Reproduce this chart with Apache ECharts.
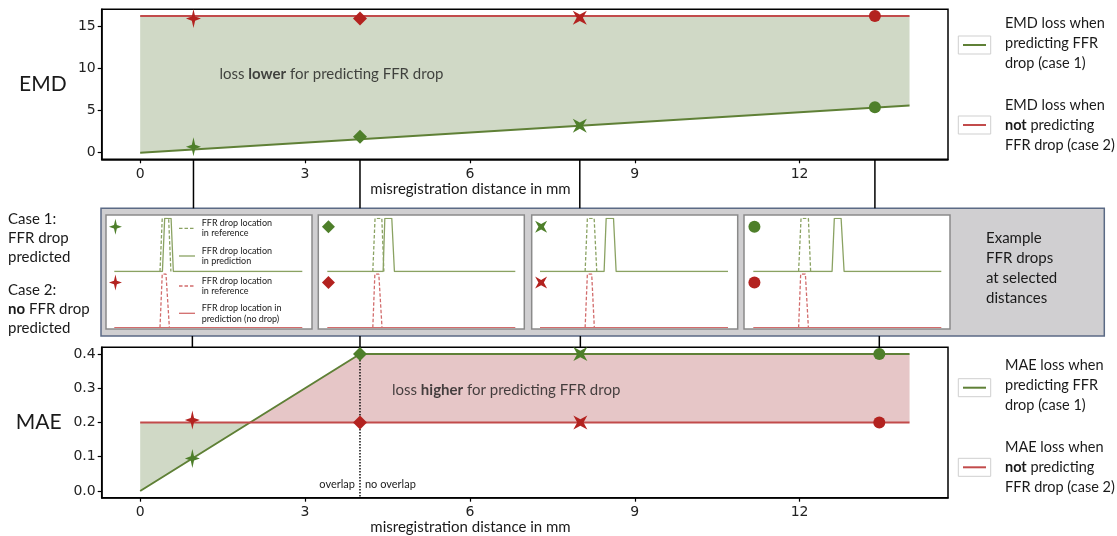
<!DOCTYPE html>
<html>
<head>
<meta charset="utf-8">
<script src="https://cdn.jsdelivr.net/npm/echarts@6/dist/echarts.min.js"></script>
<style>
html, body { margin: 0; padding: 0; background: #fff; }
#chart { width: 1117px; height: 536px; }
</style>
</head>
<body>
<div id="chart"></div>
<script>
// Misregistration distances (mm) of the four highlighted examples
const emdMarkerX = [0.97, 4, 8, 13.37];
const maeMarkerX = [0.95, 4, 8.01, 13.45];
const markerShapes = ['star4', 'diamond', 'xstar', 'circle'];

// EMD loss: case 1 (drop predicted) and case 2 (no drop predicted)
const emdLineX = [0, 14];
const emdPredLine = [0, 5.6];
const emdNoPredLine = [16.2, 16.2];
const emdPredMarkers = [0.7, 1.9, 3.2, 5.4];
const emdNoPredMarkers = [15.9, 15.9, 16.0, 16.2];

// MAE loss: case 1 and case 2
const maePredLineX = [0, 4, 14];
const maePredLine = [0, 0.4, 0.4];
const maeNoPredLineX = [0, 14];
const maeNoPredLine = [0.2, 0.2];
const maePredMarkers = [0.095, 0.4, 0.4, 0.4];
const maeNoPredMarkers = [0.207, 0.2, 0.2, 0.2];
const overlapLimit = 4;

// Tick positions
const xTicks = [0, 3, 6, 9, 12];
const emdTicks = [0, 5, 10, 15];
const maeTicks = [0, 0.1, 0.2, 0.3, 0.4];

// Example FFR-drop pulses along the vessel (0-100): [foot, top start, top end, foot]
const refPulse = [[24.3, 25.5, 28.9, 30.1], [24.2, 25.4, 29.0, 30.1], [24.0, 25.2, 28.8, 30.2], [24.1, 25.4, 29.3, 30.5]];
const predPulse = [[25.6, 26.8, 30.2, 31.4], [29.7, 30.6, 34.3, 35.7], [34.1, 35.2, 39.1, 40.5], [41.9, 43.1, 46.7, 48.3]];
const refPulseCase2 = [[24.3, 25.5, 27.5, 29.3], [24.2, 25.3, 27.4, 29.1], [24.0, 25.2, 27.5, 28.9], [24.1, 25.2, 27.7, 29.3]];

// Colours
const GREEN = '#5f8036', RED = '#c24b4b';
const GREEN_MK = '#4e7f2a', RED_MK = '#b3221f';
const GREEN_FILL = 'rgba(190,202,176,0.72)', RED_FILL = 'rgba(214,160,162,0.6)';
const MINI_GREEN = '#8aa262', MINI_RED = '#d26c6c';
const TEXT = '#1a1a1a';
const FONT = 'Lato';

const SYMBOLS = {
  star4: 'path://M0,-10 L2.2,-2.2 L10,0 L2.2,2.2 L0,10 L-2.2,2.2 L-10,0 L-2.2,-2.2 Z',
  diamond: 'diamond',
  xstar: 'path://M-10,-10 L0,-4.5 L10,-10 L4.5,0 L10,10 L0,4.5 L-10,10 L-4.5,0 Z',
  circle: 'circle'
};
const SIZES = { star4: [15, 19], diamond: [14, 14], xstar: [14, 14], circle: [12, 12] };
const MINI_SIZES = { star4: [13, 16], diamond: [13, 13], xstar: [12, 12], circle: [12, 12] };

// Layout
const PLOT_LEFT = 101.7, PLOT_W = 846.3;
const X_MIN = -0.7, X_MAX = 14.7;
const PANEL_LEFT = [106, 318.3, 531.7, 744], PANEL_W = 206, PANEL_TOP = 215, PANEL_H = 114;
const MINI_LEFT = [114.3, 327.3, 540, 753.3], MINI_W = 188;

function interp(xs, ys, x) {
  for (let i = 0; i < xs.length - 1; i++) {
    if (x >= xs[i] && x <= xs[i + 1]) {
      const t = (x - xs[i]) / (xs[i + 1] - xs[i]);
      return ys[i] + t * (ys[i + 1] - ys[i]);
    }
  }
  return ys[ys.length - 1];
}

// Regions between curve a and curve b, split where they cross
function fillRegions(ax, ay, bx, by) {
  const lo = Math.max(ax[0], bx[0]), hi = Math.min(ax[ax.length - 1], bx[bx.length - 1]);
  const xs = [...new Set([...ax, ...bx])].filter(x => x >= lo && x <= hi).sort((p, q) => p - q);
  const full = [];
  for (let i = 0; i < xs.length; i++) {
    full.push(xs[i]);
    if (i < xs.length - 1) {
      const d0 = interp(ax, ay, xs[i]) - interp(bx, by, xs[i]);
      const d1 = interp(ax, ay, xs[i + 1]) - interp(bx, by, xs[i + 1]);
      if (d0 * d1 < 0) full.push(xs[i] + (xs[i + 1] - xs[i]) * d0 / (d0 - d1));
    }
  }
  const regions = [];
  let cur = null;
  for (let i = 0; i < full.length - 1; i++) {
    const mid = (full[i] + full[i + 1]) / 2;
    const above = interp(ax, ay, mid) > interp(bx, by, mid);
    if (!cur || cur.above !== above) { cur = { above, xs: [full[i]] }; regions.push(cur); }
    cur.xs.push(full[i + 1]);
  }
  return regions.map(r => ({
    above: r.above,
    pts: r.xs.map(x => [x, interp(ax, ay, x)]).concat(r.xs.slice().reverse().map(x => [x, interp(bx, by, x)]))
  }));
}

function fillSeries(regions, xi, yi) {
  return {
    type: 'custom', xAxisIndex: xi, yAxisIndex: yi, z: 1, silent: true,
    data: regions.map(r => r.pts[0]),
    renderItem: (params, api) => {
      const r = regions[params.dataIndex];
      return { type: 'polygon', shape: { points: r.pts.map(p => api.coord(p)) }, style: { fill: r.above ? RED_FILL : GREEN_FILL } };
    }
  };
}

function lineSeries(xs, ys, color, xi, yi) {
  return {
    type: 'line', xAxisIndex: xi, yAxisIndex: yi, z: 2, showSymbol: false, silent: true,
    data: xs.map((x, i) => [x, ys[i]]),
    lineStyle: { color, width: 2 }
  };
}

function markerSeries(xs, ys, color, xi, yi) {
  return {
    type: 'scatter', xAxisIndex: xi, yAxisIndex: yi, z: 3, silent: true, clip: false,
    itemStyle: { color, opacity: 1 },
    data: xs.map((x, i) => ({ value: [x, ys[i]], symbol: SYMBOLS[markerShapes[i]], symbolSize: SIZES[markerShapes[i]] }))
  };
}

function connectorSeries(xs, xi, yi) {
  return {
    type: 'custom', xAxisIndex: xi, yAxisIndex: yi, silent: true, clip: false,
    data: xs.map(x => [x, 0]),
    renderItem: (params, api) => {
      const p0 = api.coord([api.value(0), 0]), p1 = api.coord([api.value(0), 1]);
      return { type: 'line', shape: { x1: p0[0], y1: p0[1], x2: p1[0], y2: p1[1] }, style: { stroke: '#000', lineWidth: 1.5 } };
    }
  };
}

const grids = [], xAxes = [], yAxes = [], series = [];

function mainAxes(top, height, yMin, yMax, yTicks, fmt, name, nameGap) {
  const gi = grids.length;
  grids.push({ left: PLOT_LEFT, top, width: PLOT_W, height, show: true, borderColor: '#000', borderWidth: 1.5, backgroundColor: 'transparent', containLabel: false, outerBoundsMode: 'none' });
  xAxes.push({
    gridIndex: gi, type: 'value', min: X_MIN, max: X_MAX,
    axisLine: { show: true, onZero: false, lineStyle: { color: '#000', width: 1.5 } },
    axisTick: { show: true, customValues: xTicks, length: 4, lineStyle: { color: '#000', width: 1.2 } },
    axisLabel: { customValues: xTicks, margin: 8, fontFamily: 'DejaVu Sans', fontSize: 14, color: '#222' },
    splitLine: { show: false }
  });
  yAxes.push({
    gridIndex: gi, type: 'value', min: yMin, max: yMax,
    name, nameLocation: 'middle', nameRotate: 0, nameGap,
    nameTextStyle: { fontFamily: FONT, fontSize: 21, color: TEXT },
    axisLine: { show: true, onZero: false, lineStyle: { color: '#000', width: 1.5 } },
    axisTick: { show: true, customValues: yTicks, length: 4, lineStyle: { color: '#000', width: 1.2 } },
    axisLabel: { customValues: yTicks, margin: 6, fontFamily: 'DejaVu Sans', fontSize: 14, color: '#222', formatter: fmt },
    splitLine: { show: false }
  });
  return gi;
}

function hiddenAxes(left, top, width, height, xMin, xMax) {
  const gi = grids.length;
  grids.push({ left, top, width, height, containLabel: false, outerBoundsMode: 'none' });
  xAxes.push({ gridIndex: gi, type: 'value', min: xMin, max: xMax, show: false });
  yAxes.push({ gridIndex: gi, type: 'value', min: 0, max: 1, show: false });
  return gi;
}

// EMD chart
const gEmd = mainAxes(9.3, 150, -0.78, 17.0, emdTicks, v => String(Math.round(v)), 'EMD', 35);
series.push(fillSeries(fillRegions(emdLineX, emdPredLine, emdLineX, emdNoPredLine), gEmd, gEmd));
series.push(lineSeries(emdLineX, emdPredLine, GREEN, gEmd, gEmd));
series.push(lineSeries(emdLineX, emdNoPredLine, RED, gEmd, gEmd));
series.push(markerSeries(emdMarkerX, emdPredMarkers, GREEN_MK, gEmd, gEmd));
series.push(markerSeries(emdMarkerX, emdNoPredMarkers, RED_MK, gEmd, gEmd));
series.push({
  type: 'scatter', xAxisIndex: gEmd, yAxisIndex: gEmd, symbolSize: 0, silent: true, z: 4,
  data: [[3.48, 9.3]],
  label: {
    show: true, position: 'inside', formatter: 'loss {b|lower} for predicting FFR drop',
    fontFamily: FONT, fontSize: 15, color: TEXT,
    rich: { b: { fontFamily: FONT, fontSize: 15, fontWeight: 'bold', color: TEXT } }
  }
});

// MAE chart
const gMae = mainAxes(347.3, 150.4, -0.0196, 0.4196, maeTicks, v => v.toFixed(1), 'MAE', 40);
series.push(fillSeries(fillRegions(maePredLineX, maePredLine, maeNoPredLineX, maeNoPredLine), gMae, gMae));
series.push(lineSeries(maePredLineX, maePredLine, GREEN, gMae, gMae));
series.push(lineSeries(maeNoPredLineX, maeNoPredLine, RED, gMae, gMae));
series.push({
  type: 'custom', xAxisIndex: gMae, yAxisIndex: gMae, silent: true, z: 2, clip: false,
  data: [[overlapLimit, maePredLine[1]]],
  renderItem: (params, api) => {
    const top = api.coord([api.value(0), api.value(1)]);
    const bottom = params.coordSys.y + params.coordSys.height;
    const ty = bottom - 13;
    return {
      type: 'group', children: [
        { type: 'line', shape: { x1: top[0], y1: top[1], x2: top[0], y2: bottom }, style: { stroke: '#000', lineWidth: 1.4, lineDash: [1.5, 1.5] } },
        { type: 'text', style: { text: 'overlap', x: top[0] - 5, y: ty, align: 'right', verticalAlign: 'middle', fontFamily: FONT, fontSize: 11, fill: TEXT } },
        { type: 'text', style: { text: 'no overlap', x: top[0] + 5, y: ty, align: 'left', verticalAlign: 'middle', fontFamily: FONT, fontSize: 11, fill: TEXT } }
      ]
    };
  }
});
series.push(markerSeries(maeMarkerX, maePredMarkers, GREEN_MK, gMae, gMae));
series.push(markerSeries(maeMarkerX, maeNoPredMarkers, RED_MK, gMae, gMae));
series.push({
  type: 'scatter', xAxisIndex: gMae, yAxisIndex: gMae, symbolSize: 0, silent: true, z: 4,
  data: [[6.66, 0.294]],
  label: {
    show: true, position: 'inside', formatter: 'loss {b|higher} for predicting FFR drop',
    fontFamily: FONT, fontSize: 15, color: TEXT,
    rich: { b: { fontFamily: FONT, fontSize: 15, fontWeight: 'bold', color: TEXT } }
  }
});

// Connectors from the loss charts to the example panels
const gConnTop = hiddenAxes(PLOT_LEFT, 159.3, PLOT_W, 49, X_MIN, X_MAX);
series.push(connectorSeries(emdMarkerX, gConnTop, gConnTop));
const gConnBot = hiddenAxes(PLOT_LEFT, 336, PLOT_W, 11.3, X_MIN, X_MAX);
series.push(connectorSeries(maeMarkerX, gConnBot, gConnBot));

// Example FFR-drop panels
function pulse(p) { return [[p[0], 0], [p[1], 1], [p[2], 1], [p[3], 0]]; }
function baselineWith(p) { return [[0, 0], [p[0], 0], [p[1], 1], [p[2], 1], [p[3], 0], [100, 0]]; }
function miniLine(data, color, dashed, gi) {
  return {
    type: 'line', xAxisIndex: gi, yAxisIndex: gi, z: 6, showSymbol: false, silent: true, data,
    lineStyle: { color, width: 1.3, type: dashed ? [3.5, 2] : 'solid' }
  };
}
function miniIcon(shape, color, gi) {
  return {
    type: 'scatter', xAxisIndex: gi, yAxisIndex: gi, z: 7, silent: true, clip: false,
    itemStyle: { color, opacity: 1 },
    data: [{ value: [0.6, 0.84], symbol: SYMBOLS[shape], symbolSize: MINI_SIZES[shape] }]
  };
}
for (let k = 0; k < 4; k++) {
  const gTop = hiddenAxes(MINI_LEFT[k], 218.3, MINI_W, 53.2, 0, 100);
  series.push(miniLine(baselineWith(predPulse[k]), MINI_GREEN, false, gTop));
  series.push(miniLine(pulse(refPulse[k]), MINI_GREEN, true, gTop));
  series.push(miniIcon(markerShapes[k], GREEN_MK, gTop));
  const gBot = hiddenAxes(MINI_LEFT[k], 274, MINI_W, 53.7, 0, 100);
  series.push(miniLine([[0, 0], [100, 0]], MINI_RED, false, gBot));
  series.push(miniLine(pulse(refPulseCase2[k]), MINI_RED, true, gBot));
  series.push(miniIcon(markerShapes[k], RED_MK, gBot));
}

// Decorations: example box, panel frames, legends and side texts
const gfx = [];
gfx.push({ type: 'rect', z: 0, shape: { x: 101, y: 208.3, width: 1003.3, height: 127.7 }, style: { fill: '#d0cfd1', stroke: '#5b6a85', lineWidth: 1.5 } });
PANEL_LEFT.forEach(l => gfx.push({ type: 'rect', z: 1, shape: { x: l, y: PANEL_TOP, width: PANEL_W, height: PANEL_H }, style: { fill: '#fff', stroke: '#8a8a8a', lineWidth: 1.5 } }));

function txt(text, x, y, size, lineHeight, extra) {
  return Object.assign({
    type: 'text', z: 8,
    style: {
      text, x, y, fontFamily: FONT, fontSize: size, lineHeight, fill: TEXT, verticalAlign: 'top',
      rich: { b: { fontFamily: FONT, fontSize: size, fontWeight: 'bold', lineHeight, fill: TEXT } }
    }
  }, extra || {});
}
function sampleLine(x1, x2, y, color, dashed, w) {
  return { type: 'line', z: 8, shape: { x1, y1: y, x2, y2: y }, style: { stroke: color, lineWidth: w || 1.3, lineDash: dashed ? [3.5, 2] : null } };
}

// Panel 1 legend
gfx.push(sampleLine(179, 195, 228.3, MINI_GREEN, true));
gfx.push(txt('FFR drop location\nin reference', 201.7, 218.3, 9, 10));
gfx.push(sampleLine(179, 195, 256, MINI_GREEN, false));
gfx.push(txt('FFR drop location\nin prediction', 201.7, 245.7, 9, 10.3));
gfx.push(sampleLine(179, 195, 286, MINI_RED, true));
gfx.push(txt('FFR drop location\nin reference', 201.7, 276, 9, 10));
gfx.push(sampleLine(179, 195, 313.3, MINI_RED, false));
gfx.push(txt('FFR drop location in\nprediction (no drop)', 201.7, 302.5, 9, 11));

// Side texts
gfx.push(txt('Case 1:\nFFR drop\npredicted', 8, 209.3, 15, 19));
gfx.push(txt('Case 2:\n{b|no} FFR drop\npredicted', 8, 281, 15, 18.7));
gfx.push(txt('Example\nFFR drops\nat selected\ndistances', 986, 228.3, 15, 20));

// Axis titles
['misregistration distance in mm', 'misregistration distance in mm'].forEach((t, i) => {
  gfx.push({ type: 'text', z: 8, style: { text: t, x: 470.5, y: i === 0 ? 189 : 527, align: 'center', verticalAlign: 'middle', fontFamily: FONT, fontSize: 15, fill: TEXT } });
});

// Right-hand legends
function legendEntry(boxY, color, label, textTop) {
  gfx.push({ type: 'rect', z: 8, shape: { x: 958.3, y: boxY - 9, width: 32.4, height: 18 }, style: { fill: '#fff', stroke: '#cfcfcf', lineWidth: 1 } });
  gfx.push(sampleLine(963, 986, boxY, color, false, 2));
  gfx.push(txt(label, 1005, textTop, 14.5, 20));
}
legendEntry(45, GREEN, 'EMD loss when\npredicting FFR\ndrop (case 1)', 13);
legendEntry(125, RED, 'EMD loss when\n{b|not} predicting\nFFR drop (case 2)', 95);
legendEntry(387.7, GREEN, 'MAE loss when\npredicting FFR\ndrop (case 1)', 355);
legendEntry(467.3, RED, 'MAE loss when\n{b|not} predicting\nFFR drop (case 2)', 437);

const chart = echarts.init(document.getElementById('chart'), null, { renderer: 'canvas' });
chart.setOption({
  animation: false,
  backgroundColor: '#fff',
  grid: grids,
  xAxis: xAxes,
  yAxis: yAxes,
  series,
  graphic: { elements: gfx }
});
</script>
</body>
</html>
